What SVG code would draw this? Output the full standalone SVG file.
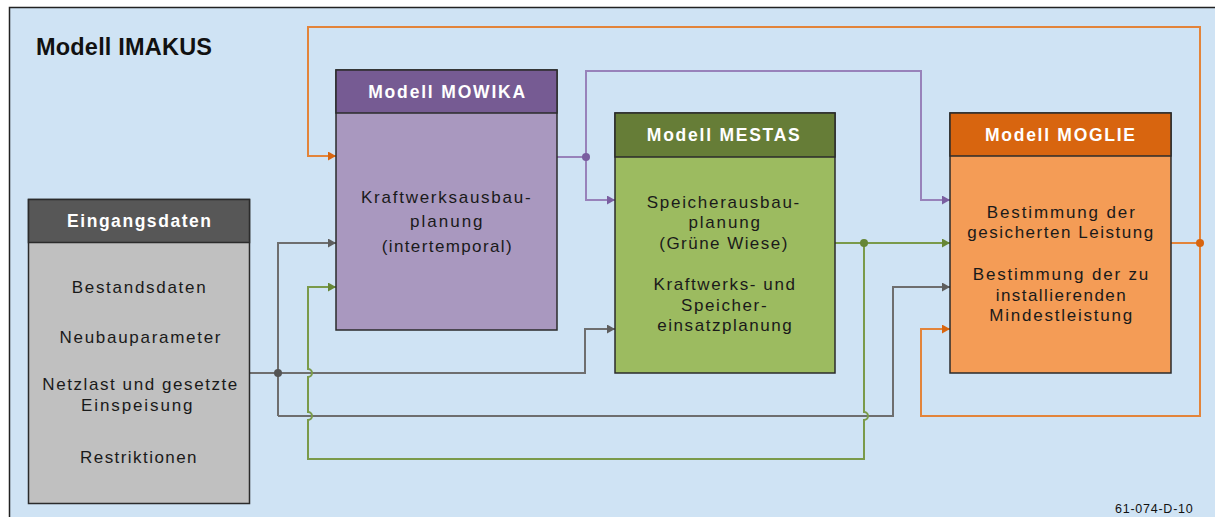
<svg xmlns="http://www.w3.org/2000/svg" width="1215" height="517" viewBox="0 0 1215 517">
<style>
.t{font-family:"Liberation Sans",Arial,sans-serif}
.h{font-family:"Liberation Sans",Arial,sans-serif;font-weight:bold;font-size:17.5px;fill:#fff;text-anchor:middle}
.b{font-family:"Liberation Sans",Arial,sans-serif;font-size:17px;fill:#1a1a1a;text-anchor:middle}
.box{stroke:#2b2b2b;stroke-width:1.5}
.c{fill:none;stroke-width:2}
.gy{stroke:#6e6e6e}
.gn{stroke:#7a9a4a}
.pu{stroke:#9882ba}
.or{stroke:#e3843a}
</style>
<defs>
<marker id="agy" markerUnits="userSpaceOnUse" markerWidth="8" markerHeight="9" refX="8" refY="4.5" orient="auto"><path d="M0,0 L8,4.5 L0,9 z" fill="#5e5e5e"/></marker>
<marker id="agn" markerUnits="userSpaceOnUse" markerWidth="8" markerHeight="9" refX="8" refY="4.5" orient="auto"><path d="M0,0 L8,4.5 L0,9 z" fill="#668636"/></marker>
<marker id="apu" markerUnits="userSpaceOnUse" markerWidth="8" markerHeight="9" refX="8" refY="4.5" orient="auto"><path d="M0,0 L8,4.5 L0,9 z" fill="#7a5ea0"/></marker>
<marker id="aor" markerUnits="userSpaceOnUse" markerWidth="8" markerHeight="9" refX="8" refY="4.5" orient="auto"><path d="M0,0 L8,4.5 L0,9 z" fill="#d8650f"/></marker>
</defs>
<rect x="0" y="0" width="1215" height="517" fill="#ffffff"/>
<rect x="9.5" y="7.5" width="1225" height="530" fill="#cfe3f4" stroke="#222" stroke-width="1.5"/>
<text class="t" x="36" y="54.5" font-size="23.5" font-weight="bold" fill="#111" textLength="176" lengthAdjust="spacing">Modell IMAKUS</text>

<g id="connectors">
  <path class="c gy" d="M249,373 H585 V329 H615" marker-end="url(#agy)"/>
  <path class="c gy" d="M278,416 V243 H336" marker-end="url(#agy)"/>
  <path class="c gy" d="M278,416 H893 V287 H950" marker-end="url(#agy)"/>
  <circle cx="278" cy="373" r="4" fill="#555"/>

  <path class="c gn" d="M835,243 H950" marker-end="url(#agn)"/>
  <path class="c gn" d="M864,243 V412 A4,4 0 0 1 864,420 V459 H308 V420 A4,4 0 0 0 308,412 V377 A4,4 0 0 0 308,369 V287 H336" marker-end="url(#agn)"/>
  <circle cx="864" cy="243" r="4" fill="#668636"/>

  <path class="c pu" d="M557,157 H586"/>
  <path class="c pu" d="M586,157 V71 H921 V200 H950" marker-end="url(#apu)"/>
  <path class="c pu" d="M586,157 V200 H615" marker-end="url(#apu)"/>
  <circle cx="586" cy="157" r="4" fill="#7a5ea0"/>

  <path class="c or" d="M1171,243 H1200"/>
  <path class="c or" d="M1200,243 V27 H308 V156 H336" marker-end="url(#aor)"/>
  <path class="c or" d="M1200,243 V416 H921 V329 H950" marker-end="url(#aor)"/>
  <circle cx="1200" cy="243" r="4" fill="#d8650f"/>
</g>

<g id="eingangsdaten">
  <rect class="box" x="28.5" y="199.5" width="221" height="304" fill="#c0c0c0"/>
  <rect class="box" x="28.5" y="199.5" width="221" height="43" fill="#575757"/>
  <text class="h" x="139" y="227" textLength="144" lengthAdjust="spacing">Eingangsdaten</text>
  <text class="b" x="138.7" y="292.5" textLength="134" lengthAdjust="spacing">Bestandsdaten</text>
  <text class="b" x="140" y="342.5" textLength="161" lengthAdjust="spacing">Neubauparameter</text>
  <text class="b" x="139.8" y="389.5" textLength="195" lengthAdjust="spacing">Netzlast und gesetzte</text>
  <text class="b" x="136.8" y="410.5" textLength="111.5" lengthAdjust="spacing">Einspeisung</text>
  <text class="b" x="138.3" y="463.3" textLength="116.5" lengthAdjust="spacing">Restriktionen</text>
</g>

<g id="mowika">
  <rect class="box" x="336" y="70" width="221" height="260" fill="#a998bf"/>
  <rect class="box" x="336" y="70" width="221" height="43" fill="#765b93"/>
  <text class="h" x="446.7" y="97.5" textLength="157" lengthAdjust="spacing">Modell MOWIKA</text>
  <text class="b" x="445.8" y="202.7" textLength="169.5" lengthAdjust="spacing">Kraftwerksausbau-</text>
  <text class="b" x="446.3" y="227" textLength="72.5" lengthAdjust="spacing">planung</text>
  <text class="b" x="446.7" y="251.5" textLength="130" lengthAdjust="spacing">(intertemporal)</text>
</g>

<g id="mestas">
  <rect class="box" x="615" y="113" width="220" height="260" fill="#9cbb60"/>
  <rect class="box" x="615" y="113" width="220" height="44" fill="#667d37"/>
  <text class="h" x="723.3" y="141" textLength="153" lengthAdjust="spacing">Modell MESTAS</text>
  <text class="b" x="723" y="208" textLength="152.5" lengthAdjust="spacing">Speicherausbau-</text>
  <text class="b" x="724.2" y="227.5" textLength="71.5" lengthAdjust="spacing">planung</text>
  <text class="b" x="723.3" y="249" textLength="128" lengthAdjust="spacing">(Grüne Wiese)</text>
  <text class="b" x="724.2" y="290" textLength="141.5" lengthAdjust="spacing">Kraftwerks- und</text>
  <text class="b" x="723.8" y="311" textLength="85.5" lengthAdjust="spacing">Speicher-</text>
  <text class="b" x="724.5" y="331" textLength="134.4" lengthAdjust="spacing">einsatzplanung</text>
</g>

<g id="moglie">
  <rect class="box" x="950" y="113" width="221" height="260" fill="#f49c56"/>
  <rect class="box" x="950" y="113" width="221" height="43" fill="#d8650f"/>
  <text class="h" x="1060" y="141" textLength="150" lengthAdjust="spacing">Modell MOGLIE</text>
  <text class="b" x="1060.8" y="218.3" textLength="148" lengthAdjust="spacing">Bestimmung der</text>
  <text class="b" x="1060.3" y="238.3" textLength="186" lengthAdjust="spacing">gesicherten Leistung</text>
  <text class="b" x="1060.5" y="280" textLength="175.5" lengthAdjust="spacing">Bestimmung der zu</text>
  <text class="b" x="1060.7" y="300.7" textLength="130" lengthAdjust="spacing">installierenden</text>
  <text class="b" x="1060.8" y="320.7" textLength="143" lengthAdjust="spacing">Mindestleistung</text>
</g>

<text class="t" x="1115" y="513" font-size="12.5" fill="#111" textLength="77.7" lengthAdjust="spacing">61-074-D-10</text>
</svg>
